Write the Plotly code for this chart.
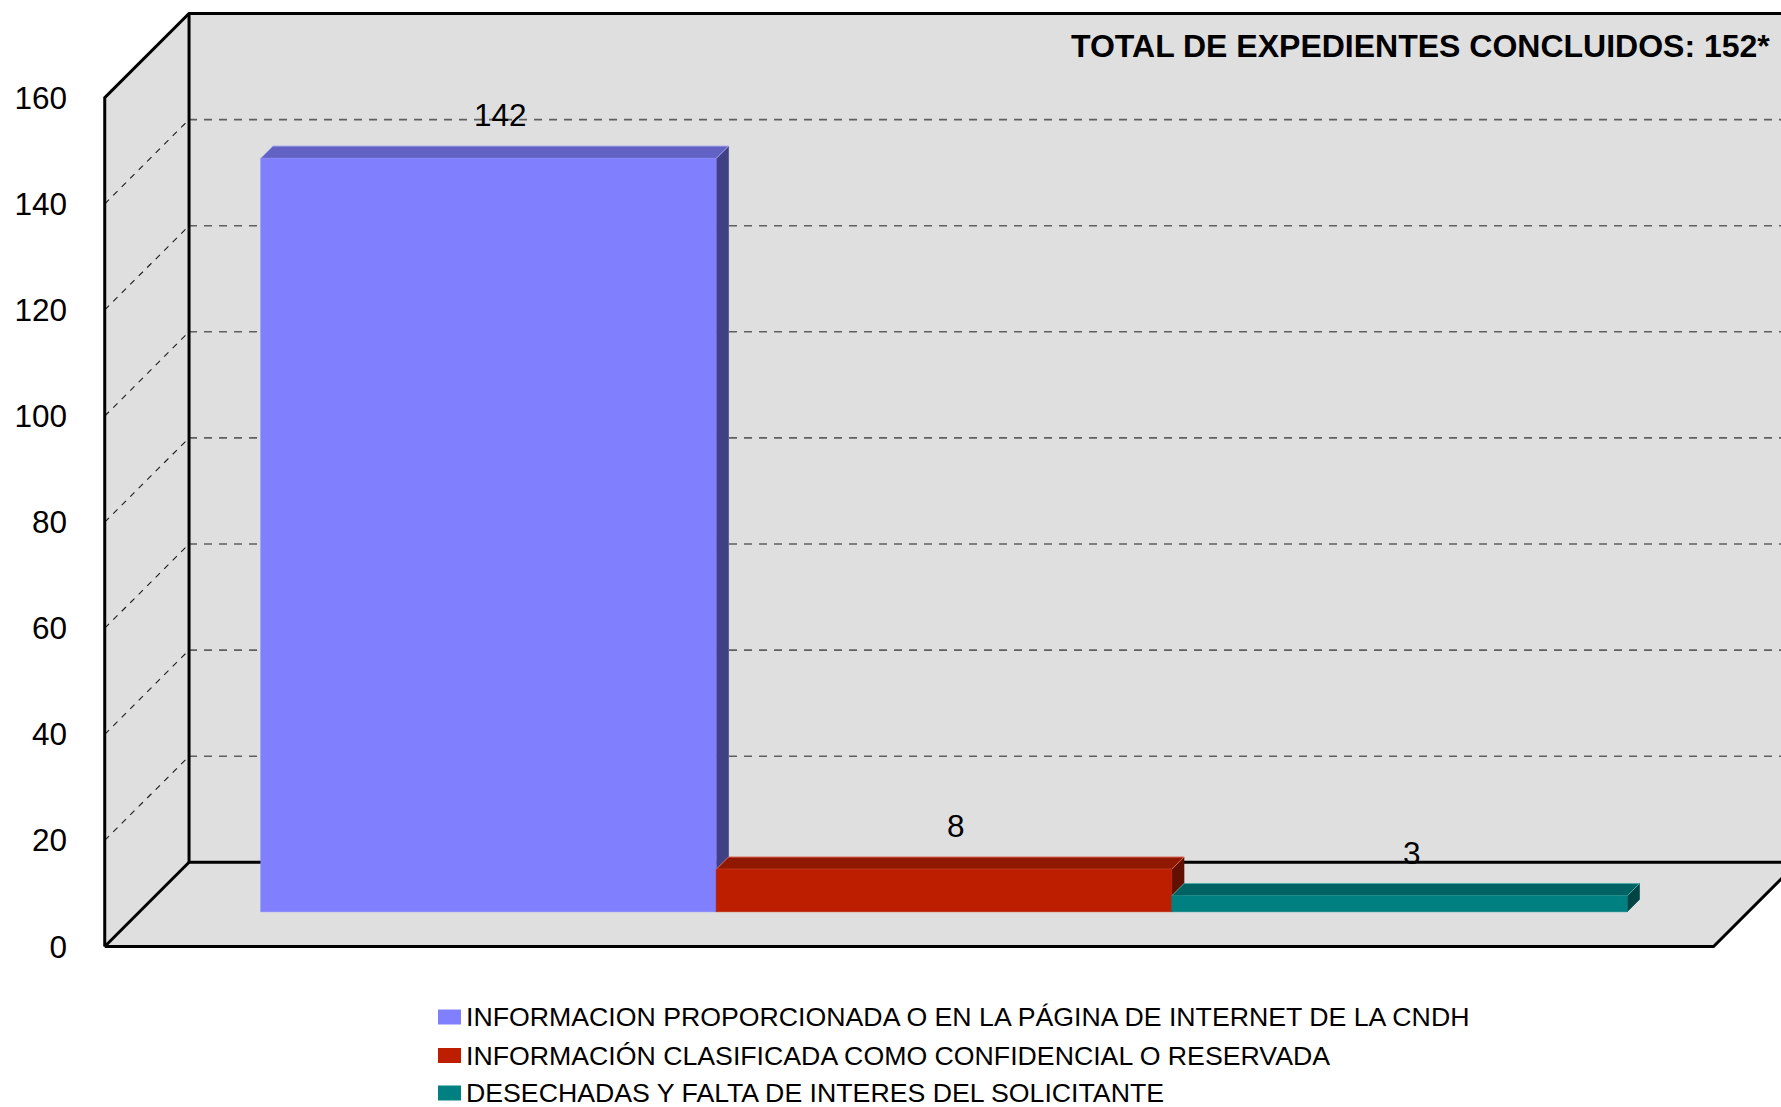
import plotly.graph_objects as go

# ---------------- data ----------------
series_names = [
    "INFORMACION PROPORCIONADA O EN LA PÁGINA DE INTERNET DE LA CNDH",
    "INFORMACIÓN CLASIFICADA COMO CONFIDENCIAL O RESERVADA",
    "DESECHADAS Y FALTA DE INTERES DEL SOLICITANTE",
]
values = [142, 8, 3]
y_ticks = [0, 20, 40, 60, 80, 100, 120, 140, 160]
title_text = "TOTAL DE EXPEDIENTES CONCLUIDOS: 152*"

# ---------------- style ----------------
front_colors = ["#8080FF", "#BE1E00", "#008080"]
top_colors = ["#6262C4", "#911800", "#006262"]
side_colors = ["#404084", "#621000", "#004444"]
edge_colors = ["#A0A0E8", "#D87060", "#50A8A8"]
wall_color = "#DFDFDF"
FONT = "Liberation Sans, Arial, sans-serif"

W, H = 1781, 1107
# geometry (pixel calibration)
PX_X = 455.5          # px per bar width
PX_Y = 5.305          # px per value unit
CX = 909.15           # px of category centre (front plane)
Y0 = 946.5            # px of value 0 (front plane)
PLOT_LEFT = 100       # px where plotting area starts
HALF = 1.766          # half width of floor in bar units
DX = 84.3 / PX_X      # depth offset in x units
DY = 84.2 / PX_Y      # depth offset in y units
F0, F1 = 0.413, 0.559 # bar depth (front/back fraction)
YMAX = 160
LABEL_GAP = 31 / PX_Y

xr = [(PLOT_LEFT - CX) / PX_X, (W - CX) / PX_X]
yr = [-(H - Y0) / PX_Y, Y0 / PX_Y]

fig = go.Figure()

def poly(xs, ys, fill, line_color=None, lw=0.6, name=None):
    fig.add_trace(go.Scatter(
        x=xs + [xs[0]], y=ys + [ys[0]], mode="lines", fill="toself",
        fillcolor=fill, line=dict(color=line_color or fill, width=lw),
        hoverinfo="skip", showlegend=False, name=name))

# walls and floor
poly([-HALF, -HALF + DX, -HALF + DX, -HALF], [0, DY, YMAX + DY, YMAX], wall_color)
poly([-HALF + DX, HALF + DX, HALF + DX, -HALF + DX], [DY, DY, YMAX + DY, YMAX + DY], wall_color)
poly([-HALF, HALF, HALF + DX, -HALF + DX], [0, 0, DY, DY], wall_color)

# gridlines
gx, gy, sx, sy = [], [], [], []
for v in y_ticks[1:-1]:
    gx += [-HALF + DX, HALF + DX, None]
    gy += [v + DY, v + DY, None]
    sx += [-HALF, -HALF + DX, None]
    sy += [v, v + DY, None]
fig.add_trace(go.Scatter(x=gx, y=gy, mode="lines", hoverinfo="skip", showlegend=False,
                         line=dict(color="#5F5F5F", width=1.6, dash="8px,7px")))
fig.add_trace(go.Scatter(x=sx, y=sy, mode="lines", hoverinfo="skip", showlegend=False,
                         line=dict(color="#1A1A1A", width=1.1, dash="6px,6px")))

# frame lines
bx = [-HALF, -HALF, -HALF + DX, HALF + DX, None,
      -HALF + DX, -HALF + DX, HALF + DX, None,
      -HALF, -HALF + DX, None,
      -HALF, HALF, HALF + DX]
by = [0, YMAX, YMAX + DY, YMAX + DY, None,
      YMAX + DY, DY, DY, None,
      0, DY, None,
      0, 0, DY]
fig.add_trace(go.Scatter(x=bx, y=by, mode="lines", hoverinfo="skip", showlegend=False,
                         line=dict(color="black", width=3)))

# bars (3D look)
n = len(values)
for i, v in enumerate(values):
    xl = (i - (n - 1) / 2) - 0.5
    xrr = xl + 1
    ox, oy = F0 * DX, F0 * DY
    qx, qy = F1 * DX, F1 * DY
    # side face
    poly([xrr + ox, xrr + qx, xrr + qx, xrr + ox], [oy, qy, v + qy, v + oy], side_colors[i])
    # top face
    poly([xl + ox, xrr + ox, xrr + qx, xl + qx], [v + oy, v + oy, v + qy, v + qy], top_colors[i],
         line_color=edge_colors[i], lw=1)
    # front face
    poly([xl + ox, xrr + ox, xrr + ox, xl + ox], [oy, oy, v + oy, v + oy], front_colors[i],
         name=series_names[i])
    fig.add_annotation(x=(i - (n - 1) / 2) + qx, y=v + qy + LABEL_GAP, text=str(v),
                       showarrow=False, xanchor="center", yanchor="middle",
                       font=dict(family=FONT, size=31.5, color="black"))

# title
fig.add_annotation(xref="paper", yref="paper", x=1772 / W, y=1 - 46 / H, text=title_text,
                   showarrow=False, xanchor="right", yanchor="middle",
                   font=dict(family=FONT, size=32, color="black", weight="bold"))

# legend (manual)
leg_rows = [1017, 1055.5, 1093]
for i, name in enumerate(series_names):
    yc = leg_rows[i]
    fig.add_shape(type="rect", xref="paper", yref="paper",
                  x0=438 / W, x1=461 / W, y0=1 - (yc + 7.5) / H, y1=1 - (yc - 7.5) / H,
                  fillcolor=front_colors[i], line=dict(width=0))
    fig.add_annotation(xref="paper", yref="paper", x=464 / W, y=1 - yc / H, text=name,
                       showarrow=False, xanchor="left", yanchor="middle",
                       font=dict(family=FONT, size=26.7, color="black"))

fig.update_layout(
    width=W, height=H, margin=dict(l=0, r=0, t=0, b=0, pad=0),
    paper_bgcolor="white", plot_bgcolor="white", showlegend=False,
    xaxis=dict(domain=[PLOT_LEFT / W, 1], range=xr, visible=False, fixedrange=True),
    yaxis=dict(range=yr, tickvals=y_ticks, ticktext=[str(t) for t in y_ticks],
               showgrid=False, zeroline=False, showline=False, ticks="",
               ticklabelstandoff=32, automargin=False, fixedrange=True,
               tickfont=dict(family=FONT, size=31.5, color="black")),
)

fig.write_html("out.html", config={"displayModeBar": False},
               post_script="document.body.style.margin='0';document.body.style.overflow='hidden';")
